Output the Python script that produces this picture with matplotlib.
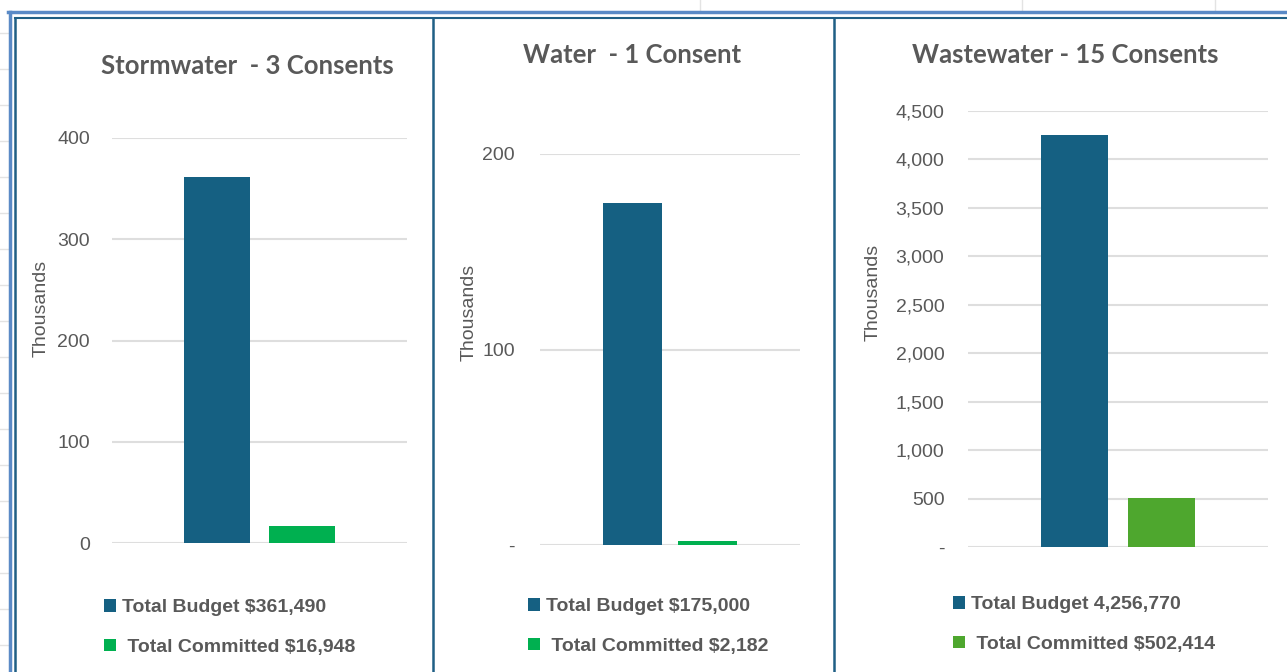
import matplotlib
matplotlib.use("Agg")
import matplotlib.pyplot as plt
from matplotlib.lines import Line2D
from matplotlib.ticker import FuncFormatter, MultipleLocator

# data (dollars), plotted in thousands
titles = ["Stormwater  - 3 Consents", "Water  - 1 Consent", "Wastewater - 15 Consents"]
budget = [361490, 175000, 4256770]
committed = [16948, 2182, 502414]
budget_labels = ["Total Budget $361,490", "Total Budget $175,000", "Total Budget 4,256,770"]
committed_labels = [" Total Committed $16,948", " Total Committed $2,182", " Total Committed $502,414"]
y_max = [400, 200, 4500]
y_step = [100, 100, 500]
zero_label = ["0", "-", "-"]

blue = "#156082"
greens = ["#00B050", "#00B050", "#4EA72E"]
grey_txt = "#595959"
grid_col = "#DEDEDE"
frame_col = "#1F5F85"

W, H = 1287, 672
fig = plt.figure(figsize=(W / 100, H / 100), dpi=100)
plt.rcParams["font.family"] = ["Liberation Sans", "DejaVu Sans"]


def px(x0, y0, x1, y1):
    # pixel box (top-left origin) -> figure fraction rect
    return [x0 / W, 1 - y1 / H, (x1 - x0) / W, (y1 - y0) / H]


def line(xs, ys, **kw):
    fig.add_artist(Line2D([x / W for x in xs], [1 - y / H for y in ys],
                          transform=fig.transFigure, **kw))


# spreadsheet background gridlines
for y in range(33, H, 36):
    line([0, 8], [y, y], color="#E3E3E3", lw=1)
for x in [700, 1022, 1215]:
    line([x, x], [0, 11], color="#E3E3E3", lw=1)

# outer selection frame and panel borders
line([8, W], [12, 12], color="#5A8AC6", lw=2.5)
line([10, 10], [12, H], color="#5A8AC6", lw=2.5)
line([15, W], [18, 18], color=frame_col, lw=1.5)
for x in [15, 433, 834]:
    line([x, x], [18, H], color=frame_col, lw=1.8)

axes_px = [(112, 138, 407, 543), (540, 154, 800, 545), (968, 111, 1268, 547)]
title_px = [(247, 66), (632, 55), (1065, 55)]
ylabel_pos = [(-0.21, 0.58), (-0.238, 0.596), (-0.287, 0.585)]
legend_px = [(104, 599), (528, 598), (953, 596)]
tick_pad = [16, 18, 17]

for i in range(3):
    ax = fig.add_axes(px(*axes_px[i]))
    b1 = ax.bar(0, budget[i] / 1000, width=0.78, color=blue)
    b2 = ax.bar(1, committed[i] / 1000, width=0.78, color=greens[i])
    ax.set_xlim(0.5 - 1.73, 0.5 + 1.73)
    ax.set_ylim(0, y_max[i])
    ax.yaxis.set_major_locator(MultipleLocator(y_step[i]))
    ax.yaxis.set_major_formatter(FuncFormatter(
        lambda v, p, z=zero_label[i]: z if v == 0 else f"{v:,.0f}"))
    ax.set_xticks([])
    ax.tick_params(axis="y", length=0, pad=tick_pad[i], labelsize=14, labelcolor=grey_txt)
    for s in ax.spines.values():
        s.set_visible(False)
    ax.grid(axis="y", color=grid_col, lw=1.5)
    ax.set_axisbelow(True)
    ax.set_ylabel("Thousands", fontsize=14, color=grey_txt)
    ax.yaxis.set_label_coords(*ylabel_pos[i])

    tx, ty = title_px[i]
    fig.text(tx / W, 1 - ty / H, titles[i], ha="center", va="center",
             fontsize=18.5, fontweight="bold", color=grey_txt, family="Lato")

    lx, ly = legend_px[i]
    leg = ax.legend([b1, b2], [budget_labels[i], committed_labels[i]],
                    loc="upper left", bbox_to_anchor=(lx / W, 1 - ly / H),
                    bbox_transform=fig.transFigure, frameon=False,
                    borderpad=0, borderaxespad=0, handlelength=0.62,
                    handleheight=0.62, handletextpad=0.3, labelspacing=1.15,
                    prop={"size": 14, "weight": "bold"})
    for t in leg.get_texts():
        t.set_color(grey_txt)

fig.savefig("out.png", dpi=100)
